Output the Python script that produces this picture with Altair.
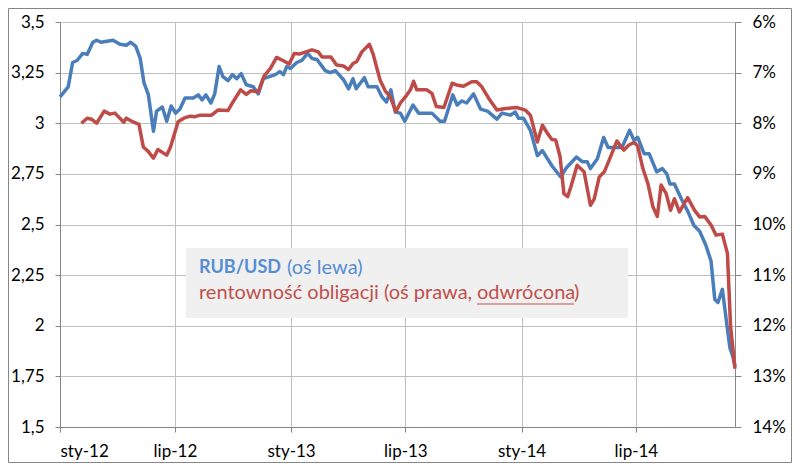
import altair as alt
import pandas as pd

# RUB/USD (left axis)
rub_dates = [
    "2012-01-01", "2012-01-14", "2012-01-21", "2012-01-28", "2012-02-06", "2012-02-13",
    "2012-02-22", "2012-02-28", "2012-03-06", "2012-03-25", "2012-04-05", "2012-04-15",
    "2012-04-22", "2012-04-30", "2012-05-07", "2012-05-13", "2012-05-20", "2012-05-28",
    "2012-06-02", "2012-06-11", "2012-06-18", "2012-06-25", "2012-07-02", "2012-07-09",
    "2012-07-17", "2012-07-30", "2012-08-07", "2012-08-13", "2012-08-19", "2012-08-27",
    "2012-09-02", "2012-09-09", "2012-09-15", "2012-09-23", "2012-09-30", "2012-10-07",
    "2012-10-14", "2012-10-22", "2012-11-02", "2012-11-10", "2012-11-18", "2012-12-07",
    "2012-12-14", "2012-12-20", "2012-12-25", "2012-12-31", "2013-01-10", "2013-01-18",
    "2013-01-27", "2013-02-03", "2013-02-11", "2013-02-24", "2013-03-04", "2013-03-12",
    "2013-03-25", "2013-04-02", "2013-04-09", "2013-04-14", "2013-04-27", "2013-05-03",
    "2013-05-17", "2013-05-25", "2013-06-01", "2013-06-08", "2013-06-15", "2013-06-23",
    "2013-06-30", "2013-07-13", "2013-07-22", "2013-08-12", "2013-08-25", "2013-09-01",
    "2013-09-14", "2013-09-21", "2013-09-28", "2013-10-06", "2013-10-17", "2013-10-28",
    "2013-11-08", "2013-11-23", "2013-12-01", "2013-12-14", "2013-12-22", "2013-12-27",
    "2014-01-04", "2014-01-15", "2014-01-26", "2014-02-03", "2014-02-18", "2014-03-04",
    "2014-03-13", "2014-03-29", "2014-04-07", "2014-04-15", "2014-04-20", "2014-05-01",
    "2014-05-11", "2014-05-18", "2014-05-26", "2014-06-09", "2014-06-21", "2014-06-28",
    "2014-07-04", "2014-07-14", "2014-07-22", "2014-08-03", "2014-08-12", "2014-08-19",
    "2014-08-24", "2014-08-31", "2014-09-11", "2014-09-22", "2014-10-01", "2014-10-10",
    "2014-10-20", "2014-10-28", "2014-11-03", "2014-11-08", "2014-11-15", "2014-11-22",
    "2014-11-27", "2014-12-02", "2014-12-05",
]
rub_values = [
    3.13, 3.18, 3.30, 3.31, 3.345, 3.34,
    3.40, 3.41, 3.40, 3.41, 3.39, 3.385,
    3.40, 3.38, 3.32, 3.20, 3.14, 2.96,
    3.06, 3.08, 3.01, 3.085, 3.05, 3.07,
    3.125, 3.125, 3.14, 3.115, 3.14, 3.10,
    3.145, 3.28, 3.23, 3.21, 3.24, 3.22,
    3.245, 3.19, 3.18, 3.145, 3.22, 3.24,
    3.255, 3.24, 3.28, 3.27, 3.30, 3.31,
    3.345, 3.32, 3.315, 3.26, 3.25, 3.26,
    3.215, 3.17, 3.22, 3.17, 3.225, 3.18,
    3.18, 3.13, 3.105, 3.165, 3.055, 3.05,
    3.01, 3.09, 3.05, 3.05, 3.01, 3.01,
    3.14, 3.09, 3.11, 3.10, 3.145, 3.07,
    3.06, 3.02, 3.05, 3.04, 3.055, 3.025,
    3.025, 2.965, 2.84, 2.865, 2.79, 2.735,
    2.78, 2.833, 2.81, 2.81, 2.776, 2.825,
    2.93, 2.88, 2.88, 2.88, 2.965, 2.916,
    2.93, 2.85, 2.85, 2.76, 2.776, 2.75,
    2.70, 2.70, 2.627, 2.56, 2.495, 2.467,
    2.396, 2.32, 2.13, 2.115, 2.18, 2.008,
    1.89, 1.843, 1.80,
]

# Bond yield, % (right axis, reversed)
yld_dates = [
    "2012-02-04", "2012-02-13", "2012-02-20", "2012-02-28", "2012-03-11", "2012-03-20",
    "2012-03-28", "2012-04-11", "2012-04-15", "2012-04-25", "2012-05-05", "2012-05-12",
    "2012-05-20", "2012-05-28", "2012-06-04", "2012-06-18", "2012-06-24", "2012-07-06",
    "2012-07-15", "2012-07-25", "2012-08-02", "2012-08-10", "2012-08-28", "2012-09-07",
    "2012-09-23", "2012-10-01", "2012-10-13", "2012-10-22", "2012-10-29", "2012-11-10",
    "2012-11-19", "2012-11-29", "2012-12-09", "2012-12-19", "2012-12-29", "2013-01-06",
    "2013-01-15", "2013-02-03", "2013-02-13", "2013-02-19", "2013-03-05", "2013-03-14",
    "2013-03-25", "2013-04-02", "2013-04-09", "2013-04-15", "2013-04-23", "2013-05-05",
    "2013-05-11", "2013-05-22", "2013-05-30", "2013-06-07", "2013-06-16", "2013-06-23",
    "2013-07-01", "2013-07-09", "2013-07-14", "2013-07-19", "2013-08-04", "2013-08-12",
    "2013-08-19", "2013-08-31", "2013-09-13", "2013-09-22", "2013-10-01", "2013-10-14",
    "2013-10-22", "2013-10-30", "2013-11-10", "2013-11-23", "2013-12-06", "2013-12-25",
    "2014-01-07", "2014-01-15", "2014-01-26", "2014-02-03", "2014-02-11", "2014-02-18",
    "2014-02-24", "2014-03-03", "2014-03-09", "2014-03-15", "2014-03-20", "2014-03-30",
    "2014-04-10", "2014-04-20", "2014-04-26", "2014-05-04", "2014-05-12", "2014-05-22",
    "2014-06-01", "2014-06-12", "2014-06-20", "2014-06-28", "2014-07-04", "2014-07-12",
    "2014-07-20", "2014-07-28", "2014-08-04", "2014-08-10", "2014-08-18", "2014-08-25",
    "2014-08-31", "2014-09-08", "2014-09-21", "2014-10-02", "2014-10-10", "2014-10-18",
    "2014-10-28", "2014-11-05", "2014-11-15", "2014-11-23", "2014-11-28", "2014-12-05",
]
yld_values = [
    8.00, 7.90, 7.92, 8.00, 7.76, 7.82,
    7.80, 7.98, 7.90, 7.97, 8.02, 8.47,
    8.56, 8.69, 8.52, 8.63, 8.47, 7.97,
    7.90, 7.86, 7.87, 7.84, 7.84, 7.74,
    7.75, 7.58, 7.34, 7.43, 7.36, 7.38,
    7.07, 6.92, 6.70, 6.76, 6.83, 6.62,
    6.63, 6.55, 6.59, 6.69, 6.69, 6.85,
    6.87, 6.94, 6.82, 6.78, 6.59, 6.44,
    6.64, 7.15, 7.36, 7.48, 7.77, 7.60,
    7.48, 7.34, 7.17, 7.34, 7.34, 7.41,
    7.67, 7.69, 7.21, 7.25, 7.27, 7.18,
    7.18, 7.28, 7.51, 7.74, 7.71, 7.69,
    7.74, 7.84, 8.37, 8.04, 8.20, 8.32,
    8.33, 8.66, 9.39, 9.45, 9.26, 8.83,
    8.96, 9.62, 9.50, 9.06, 8.96, 8.66,
    8.35, 8.53, 8.43, 8.38, 8.45, 8.89,
    9.19, 9.65, 9.84, 9.22, 9.39, 9.72,
    9.49, 9.75, 9.47, 9.72, 9.85, 9.84,
    10.01, 10.21, 10.19, 10.57, 12.02, 12.85,
]

rub_ticks = [1.5, 1.75, 2.0, 2.25, 2.5, 2.75, 3.0, 3.25, 3.5]
yld_ticks = [6, 7, 8, 9, 10, 11, 12, 13, 14]
x_tick_dates = [(2012, 1), (2012, 7), (2013, 1), (2013, 7), (2014, 1), (2014, 7)]

legend_line1_bold = "RUB/USD"
legend_line1_rest = "(oś lewa)"
legend_line2_a = "rentowność obligacji (oś prawa,"
legend_line2_b = "odwrócona"
legend_line2_c = ")"

BLUE = "#4a7ebb"
RED = "#be4b48"
BLUE_TXT = "#558ed5"
RED_TXT = "#c0504d"
FONT = "Lato"

W, H = 675, 405
PAD = {"left": 52, "top": 14, "right": 57, "bottom": 36}

rub_df = pd.DataFrame({"date": pd.to_datetime(rub_dates), "v": rub_values})
yld_df = pd.DataFrame({"date": pd.to_datetime(yld_dates), "v": yld_values})

x_vals = [alt.DateTime(year=y, month=m, date=1) for y, m in x_tick_dates]
x_scale = alt.Scale(domain=[alt.DateTime(year=2012, month=1, date=1),
                            alt.DateTime(year=2014, month=12, date=5)])
x_axis = alt.Axis(
    values=x_vals, title=None, grid=True, tickSize=5, labelPadding=11,
    labelExpr="(month(datum.value) == 0 ? 'sty-' : 'lip-') + timeFormat(datum.value, '%y')",
)

blue = alt.Chart(rub_df).mark_line(color=BLUE, strokeWidth=3.5, strokeJoin="round").encode(
    x=alt.X("date:T", scale=x_scale, axis=x_axis),
    y=alt.Y("v:Q", scale=alt.Scale(domain=[1.5, 3.5], nice=False, zero=False),
            axis=alt.Axis(values=rub_ticks, orient="left", title=None, grid=True,
                          tickSize=5, labelPadding=11,
                          labelExpr="replace(toString(datum.value), '.', ',')")),
)

red = alt.Chart(yld_df).mark_line(color=RED, strokeWidth=3.5, strokeJoin="round").encode(
    x=alt.X("date:T", scale=x_scale, axis=x_axis),
    y=alt.Y("v:Q", scale=alt.Scale(domain=[6, 14], nice=False, zero=False, reverse=True),
            axis=alt.Axis(values=yld_ticks, orient="right", title=None, grid=False,
                          tickSize=6, labelPadding=11,
                          labelExpr="datum.value + '%'")),
)

one = pd.DataFrame({"a": [0]})


def label(txt, x, y, color, size, weight="normal"):
    return alt.Chart(pd.DataFrame({"t": [txt]})).mark_text(
        align="left", baseline="middle", font=FONT, fontSize=size,
        fontWeight=weight, color=color
    ).encode(x=alt.value(x), y=alt.value(y), text="t:N")


box = alt.Chart(one).mark_rect(fill="#f0f0f0").encode(
    x=alt.value(126), x2=alt.value(568), y=alt.value(226), y2=alt.value(296)
)
t1 = label(legend_line1_bold, 139, 246, BLUE_TXT, 18, "bold")
t2 = label(legend_line1_rest, 227, 246, BLUE_TXT, 20)
t3 = label(legend_line2_a, 139, 271, RED_TXT, 20)
t4 = label(legend_line2_b, 417, 271, RED_TXT, 20)
t5 = label(legend_line2_c, 514, 271, RED_TXT, 20)
underline = alt.Chart(one).mark_rule(color=RED_TXT, strokeWidth=1).encode(
    x=alt.value(417), x2=alt.value(514), y=alt.value(282)
)
border = alt.Chart(one).mark_rect(fill=None, stroke="#868686", strokeWidth=1).encode(
    x=alt.value(-PAD["left"] + 0.5), x2=alt.value(W + PAD["right"] - 0.5),
    y=alt.value(-PAD["top"] + 0.5), y2=alt.value(H + PAD["bottom"] - 0.5)
)

chart = alt.layer(blue, red, box, t1, t2, t3, t4, t5, underline, border).resolve_scale(
    y="independent"
).properties(
    width=W, height=H,
    autosize=alt.AutoSizeParams(type="none"),
    padding=PAD,
    background="white",
).configure_axis(
    domainColor="#868686", tickColor="#868686", gridColor="#bfbfbf",
    labelFont=FONT, labelFontSize=17, labelColor="#000000",
).configure_view(stroke=None)

chart.save("out.html", embed_options={"renderer": "svg", "actions": False})
